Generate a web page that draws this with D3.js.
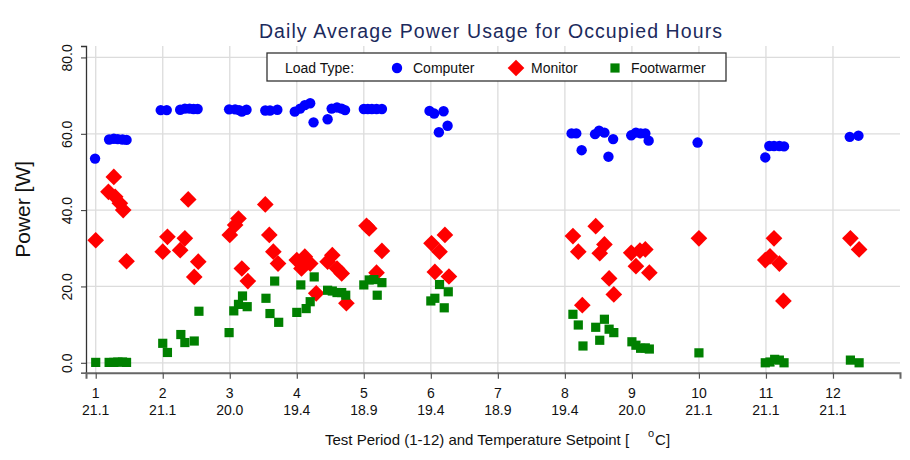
<!DOCTYPE html>
<html><head><meta charset="utf-8">
<script src="https://cdn.jsdelivr.net/npm/d3@7"></script>
<style>
html,body{margin:0;padding:0;background:#fff;}
svg{display:block;font-family:"Liberation Sans",Arial,sans-serif;}
</style></head>
<body>
<svg id="chart" width="910" height="460"></svg>
<script>
const periods = [1,2,3,4,5,6,7,8,9,10,11,12];
const setpoints = ["21.1","21.1","20.0","19.4","18.9","19.4","18.9","19.4","20.0","21.1","21.1","21.1"];
const yTicks = [0,20,40,60,80];
const seriesNames = ["Computer","Monitor","Footwarmer"];

const computer = [
[0.99,53.5],[1.20,58.5],[1.27,58.7],[1.33,58.6],[1.40,58.5],[1.46,58.4],
[1.97,66.2],[2.06,66.2],[2.26,66.3],[2.33,66.6],[2.40,66.6],[2.46,66.5],[2.52,66.5],
[2.99,66.4],[3.08,66.4],[3.14,66.2],[3.18,65.8],[3.25,66.3],[3.53,66.1],[3.60,66.1],[3.71,66.3],
[3.97,65.8],[4.05,66.6],[4.12,67.5],[4.20,68.0],[4.25,63.0],[4.46,63.8],[4.52,66.6],[4.60,66.9],[4.67,66.6],[4.72,66.2],
[5.00,66.5],[5.06,66.5],[5.12,66.5],[5.19,66.5],[5.27,66.5],
[5.98,66.0],[6.05,65.3],[6.12,60.4],[6.19,65.9],[6.25,62.1],
[8.10,60.1],[8.17,60.1],[8.25,55.7],[8.45,59.9],[8.51,60.8],[8.59,60.3],[8.65,54.0],[8.72,58.6],
[8.99,59.6],[9.06,60.3],[9.13,60.1],[9.20,60.1],[9.25,58.2],
[9.98,57.7],
[10.99,53.8],[11.05,56.8],[11.12,56.8],[11.20,56.8],[11.27,56.7],
[12.25,59.2],[12.38,59.5]
];
const monitor = [
[1.00,32.1],[1.19,44.8],[1.27,48.7],[1.29,43.5],[1.36,41.8],[1.41,40.0],[1.46,26.6],
[2.00,29.1],[2.07,33.0],[2.26,29.5],[2.33,32.6],[2.38,42.8],[2.47,22.5],[2.53,26.5],
[3.00,33.5],[3.08,36.1],[3.13,37.8],[3.18,24.7],[3.27,21.4],[3.53,41.5],[3.59,33.5],[3.65,29.1],[3.72,26.0],
[4.00,26.9],[4.07,24.7],[4.12,27.8],[4.20,26.0],[4.29,18.2],[4.46,26.5],[4.53,28.2],[4.60,24.7],[4.67,23.4],[4.74,15.6],
[5.04,35.9],[5.08,35.2],[5.19,23.6],[5.27,29.3],
[6.01,31.3],[6.06,23.8],[6.13,29.1],[6.21,33.5],[6.27,22.6],
[8.12,33.2],[8.20,29.1],[8.26,15.1],[8.46,35.8],[8.52,28.7],[8.59,31.0],[8.66,22.1],[8.73,17.9],
[8.99,28.8],[9.06,25.3],[9.12,29.4],[9.20,29.7],[9.26,23.6],
[10.00,32.6],
[10.99,26.9],[11.06,27.9],[11.12,32.6],[11.20,26.0],[11.26,16.2],
[12.26,32.6],[12.39,29.7]
];
const footwarmer = [
[1.00,0.1],[1.20,0.1],[1.27,0.1],[1.33,0.2],[1.40,0.2],[1.46,0.1],
[2.00,5.1],[2.07,2.7],[2.27,7.4],[2.33,5.3],[2.47,5.7],[2.54,13.5],
[2.99,7.9],[3.06,13.6],[3.13,15.3],[3.19,17.5],[3.26,14.7],[3.54,16.9],[3.60,12.9],[3.67,21.4],[3.73,10.6],
[4.00,13.2],[4.06,20.4],[4.14,14.2],[4.20,16.0],[4.26,22.5],[4.46,19.0],[4.53,18.8],[4.60,18.4],[4.67,18.4],[4.73,17.7],
[5.00,20.4],[5.08,21.7],[5.15,21.8],[5.20,17.7],[5.27,21.0],
[6.00,16.2],[6.06,16.9],[6.13,20.5],[6.20,14.4],[6.26,18.6],
[8.12,12.7],[8.20,9.9],[8.27,4.4],[8.46,9.3],[8.52,5.9],[8.59,11.4],[8.66,8.8],[8.73,7.9],
[9.00,5.5],[9.06,4.6],[9.13,3.8],[9.20,3.9],[9.26,3.6],
[10.00,2.6],
[10.99,0.0],[11.06,0.2],[11.13,0.9],[11.20,0.7],[11.27,0.0],
[12.26,0.7],[12.39,0.0]
];

const svg = d3.select("#chart");
const L = 86, R = 900, T = 46, B = 372.7;
const x = d3.scaleLinear().domain([0.855, 13.0]).range([L, R]);
const y = d3.scaleLinear().domain([-2.6, 83]).range([B, T]);

// grid
const grid = svg.append("g");
grid.selectAll("line.v").data(periods).join("line")
  .attr("x1", d => x(d)).attr("x2", d => x(d)).attr("y1", T).attr("y2", B)
  .attr("stroke", "#dcdcdc").attr("stroke-width", 1.3);
grid.selectAll("line.h").data(yTicks).join("line")
  .attr("x1", L).attr("x2", R).attr("y1", d => y(d)).attr("y2", d => y(d))
  .attr("stroke", "#dcdcdc").attr("stroke-width", 1.3);

// axes
const yAxis = svg.append("g").attr("transform", `translate(${L},0)`)
  .call(d3.axisLeft(y).tickValues(yTicks).tickSize(5).tickFormat(d3.format(".1f")));
yAxis.select(".domain").attr("stroke", "#333").attr("stroke-width", 1.3);
yAxis.selectAll(".tick line").attr("stroke", "#333");
yAxis.selectAll(".tick text").attr("font-size", 14).attr("fill", "#111")
  .attr("transform", "rotate(-90)").attr("x", 0).attr("y", -14).attr("dy", 0)
  .attr("text-anchor", "middle").style("font-family", "Liberation Sans, Arial, sans-serif");

const xAxis = svg.append("g").attr("transform", `translate(0,${B})`)
  .call(d3.axisBottom(x).tickValues(periods).tickSize(6).tickFormat(""));
xAxis.select(".domain").attr("stroke", "#666").attr("stroke-width", 2);
xAxis.selectAll(".tick line").attr("stroke", "#555").attr("stroke-width", 1.2);
const xl = svg.append("g").selectAll("g").data(periods).join("g");
xl.append("text").attr("x", d => x(d)).attr("y", 398).attr("text-anchor", "middle")
  .attr("font-size", 14).attr("fill", "#111").text(d => d);
xl.append("text").attr("x", d => x(d)).attr("y", 415).attr("text-anchor", "middle")
  .attr("font-size", 14).attr("fill", "#111").text((d, i) => setpoints[i]);

// axis titles
const xt = svg.append("text").attr("x", 325).attr("y", 445).attr("font-size", 15).attr("fill", "#111")
  .text("Test Period (1-12) and Temperature Setpoint [");
const xtEnd = 325 + xt.node().getComputedTextLength();
svg.append("text").attr("x", xtEnd + 19).attr("y", 437).attr("font-size", 11).attr("fill", "#111").text("o");
svg.append("text").attr("x", xtEnd + 26).attr("y", 445).attr("font-size", 15).attr("fill", "#111").text("C]");

svg.append("text").attr("transform", `translate(30,${(T + B) / 2}) rotate(-90)`)
  .attr("text-anchor", "middle").attr("font-size", 21).attr("fill", "#111").text("Power [W]");

svg.append("text").attr("x", 491).attr("y", 38).attr("text-anchor", "middle")
  .attr("font-size", 19.5).attr("letter-spacing", 1.1).attr("fill", "#1c2a5c")
  .text("Daily Average Power Usage for Occupied Hours");

// symbols
const sym = {
  Computer: { color: "#0000ff", path: d3.symbol().type(d3.symbolCircle).size(Math.PI * 5.2 * 5.2)() },
  Monitor: { color: "#ff0000", path: d3.symbol().type(d3.symbolSquare).size(11.8 * 11.8)(), rot: 45 },
  Footwarmer: { color: "#008000", path: d3.symbol().type(d3.symbolSquare).size(9.2 * 9.2)() }
};
const dataBy = { Computer: computer, Monitor: monitor, Footwarmer: footwarmer };

seriesNames.forEach(name => {
  const s = sym[name];
  svg.append("g").selectAll("path").data(dataBy[name]).join("path")
    .attr("d", s.path)
    .attr("transform", d => `translate(${x(d[0])},${y(d[1])})` + (s.rot ? ` rotate(${s.rot})` : ""))
    .attr("fill", s.color);
});

// legend
const lg = svg.append("g");
lg.append("rect").attr("x", 267).attr("y", 53).attr("width", 459).attr("height", 28)
  .attr("fill", "#fff").attr("stroke", "#333").attr("stroke-width", 1.3);
lg.append("text").attr("x", 285).attr("y", 73).attr("font-size", 14).attr("fill", "#111").text("Load Type:");
const legItems = [
  { name: "Computer", sx: 397, tx: 413 },
  { name: "Monitor", sx: 516, tx: 531 },
  { name: "Footwarmer", sx: 615, tx: 631 }
];
legItems.forEach(it => {
  const s = sym[it.name];
  lg.append("path").attr("d", s.path)
    .attr("transform", `translate(${it.sx},68)` + (s.rot ? " rotate(45)" : ""))
    .attr("fill", s.color);
  lg.append("text").attr("x", it.tx).attr("y", 73).attr("font-size", 14).attr("fill", "#111").text(it.name);
});
</script>
</body></html>
